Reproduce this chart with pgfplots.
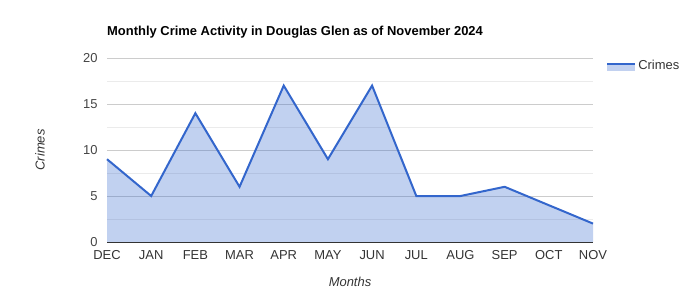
\documentclass[border=0pt]{standalone}
\usepackage{pgfplots}
\pgfplotsset{compat=1.18}
\usepackage{fontspec}
\setmainfont{Liberation Sans}
\definecolor{gblue}{HTML}{3366CC}
\definecolor{gfill}{HTML}{C2D1F0}
\definecolor{majgrid}{HTML}{CCCCCC}
\definecolor{mingrid}{HTML}{EBEBEB}
\definecolor{ticktxt}{HTML}{444444}
\definecolor{labtxt}{HTML}{333333}
\begin{document}
\begin{tikzpicture}[x=1bp,y=1bp]
\useasboundingbox (0,0) rectangle (700,300);
\node[anchor=base west,font=\bfseries\fontsize{13}{15}\selectfont,text=black,inner sep=0pt] at (107,265) {Monthly Crime Activity in Douglas Glen as of November 2024};
\begin{axis}[
  at={(107bp,58bp)}, anchor=south west,
  scale only axis, width=486bp, height=184bp,
  xmin=0, xmax=11, ymin=0, ymax=20,
  xtick={0,...,11},
  xticklabels={DEC,JAN,FEB,MAR,APR,MAY,JUN,JUL,AUG,SEP,OCT,NOV},
  ytick={0,5,10,15,20},
  minor ytick={2.5,7.5,12.5,17.5},
  ymajorgrids, yminorgrids,
  major grid style={draw=majgrid, line width=0.8bp},
  minor grid style={draw=mingrid, line width=0.8bp},
  axis line style={draw=none},
  major tick length=0pt, minor tick length=0pt,
  /pgf/number format/assume math mode=true,
  ticklabel style={font=\fontsize{13}{15}\selectfont},
  yticklabel style={text=ticktxt, xshift=-6bp},
  xticklabel style={text=labtxt, yshift=-5bp},
  xlabel={Months}, ylabel={Crimes},
  xlabel style={font=\itshape\fontsize{13}{15}\selectfont, text=labtxt, at={(axis description cs:0.5,-0.217)}, anchor=center},
  ylabel style={font=\itshape\fontsize{13}{15}\selectfont, text=labtxt, at={(axis description cs:-0.138,0.5)}, anchor=center},
  legend style={at={(axis description cs:1.027,1.0)}, anchor=north west, draw=none, fill=none, font=\fontsize{13}{15}\selectfont, text=labtxt, inner sep=0pt, row sep=0pt},
  legend cell align=left,
  clip=false,
]
\addplot[draw=none, fill=gblue, fill opacity=0.3, forget plot] coordinates {
(0,9) (1,5) (2,14) (3,6) (4,17) (5,9) (6,17) (7,5) (8,5) (9,6) (10,4) (11,2)
} \closedcycle;
\addplot[draw=gblue, line width=2bp,
  legend image code/.code={
    \path[draw=none, fill=gfill] (0bp,-5bp) rectangle (28bp,2bp);
    \path[draw=gblue, line width=2bp] (0bp,2bp) -- (28bp,2bp);
  }] coordinates {
(0,9) (1,5) (2,14) (3,6) (4,17) (5,9) (6,17) (7,5) (8,5) (9,6) (10,4) (11,2)
};
\addlegendentry{Crimes}
\draw[color=labtxt, line width=1bp] (axis cs:0,0) -- (axis cs:11,0);
\end{axis}
\end{tikzpicture}
\end{document}
